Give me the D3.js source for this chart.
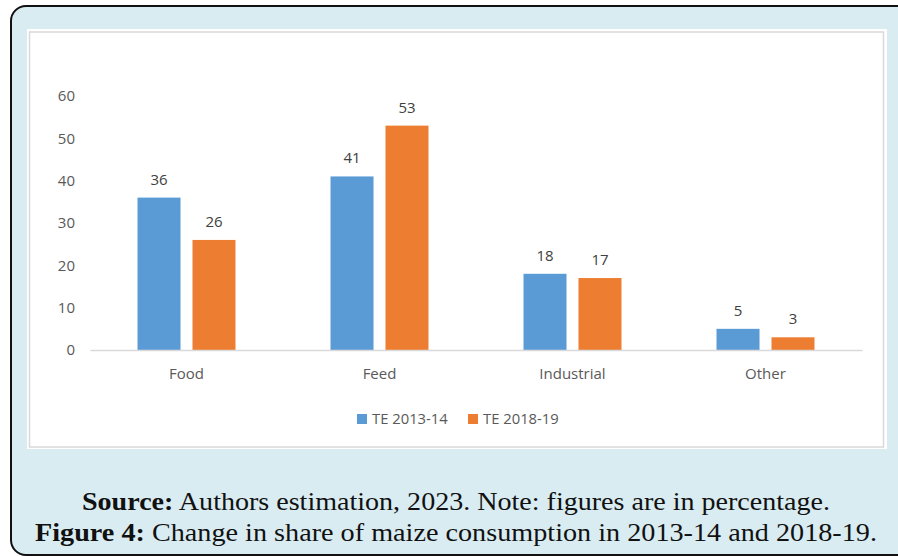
<!DOCTYPE html>
<html><head><meta charset="utf-8">
<script src="https://cdn.jsdelivr.net/npm/d3@7"></script>
<style>html,body{margin:0;padding:0;background:#fff;overflow:hidden}</style>
</head><body>
<svg id="c" width="898" height="556"></svg>
<script>
const categories = ["Food", "Feed", "Industrial", "Other"];
const seriesNames = ["TE 2013-14", "TE 2018-19"];
const te2013 = [36, 41, 18, 5];
const te2018 = [26, 53, 17, 3];
const yTicks = [0, 10, 20, 30, 40, 50, 60];
const colors = ["#5b9bd5", "#ed7d31"];
const captionSource = ["Source:", " Authors estimation, 2023. Note: figures are in percentage."];
const captionFigure = ["Figure 4:", " Change in share of maize consumption in 2013-14 and 2018-19."];

const svg = d3.select("#c");
// outer frame
svg.append("rect").attr("x", 11).attr("y", 6).attr("width", 930).attr("height", 549)
  .attr("rx", 15).attr("fill", "#d9ecf1").attr("stroke", "#111").attr("stroke-width", 2);
// chart panel
svg.append("rect").attr("x", 27).attr("y", 29).attr("width", 860).attr("height", 420).attr("fill", "#fff");
svg.append("rect").attr("x", 29.5).attr("y", 32).attr("width", 854).attr("height", 415)
  .attr("fill", "none").attr("stroke", "#d9d9d9").attr("stroke-width", 1.5);

const font = "'Open Sans', sans-serif";
const x0 = d3.scaleBand().domain(categories).range([90, 862]).padding(0);
const x1 = d3.scaleBand().domain(seriesNames).range([0, x0.bandwidth()]).paddingInner(0.218).paddingOuter(0.864);
const y = d3.scaleLinear().domain([0, 60]).range([350, 96]);

// y labels
const yAxis = d3.axisLeft(y).tickValues(yTicks).tickSize(0).tickPadding(0);
const ga = svg.append("g").attr("transform", "translate(75,0)").call(yAxis);
ga.select(".domain").remove();
ga.selectAll("text").attr("font-family", font).attr("font-size", 15).attr("fill", "#595959");

const data = categories.map((c, i) => ({cat: c, vals: [te2013[i], te2018[i]]}));
const groups = svg.append("g").selectAll("g").data(data).join("g")
  .attr("transform", d => `translate(${x0(d.cat)},0)`);
groups.selectAll("rect").data(d => d.vals.map((v, j) => ({s: seriesNames[j], v, j}))).join("rect")
  .attr("x", d => x1(d.s)).attr("y", d => y(d.v))
  .attr("width", x1.bandwidth()).attr("height", d => y(0) - y(d.v))
  .attr("fill", d => colors[d.j]);
groups.selectAll("text").data(d => d.vals.map((v, j) => ({s: seriesNames[j], v, j}))).join("text")
  .attr("x", d => x1(d.s) + x1.bandwidth() / 2).attr("y", d => y(d.v) - 13)
  .attr("text-anchor", "middle").attr("font-family", font).attr("font-size", 15).attr("fill", "#404040")
  .text(d => d.v);

// baseline
const xAxis = d3.axisBottom(x0).tickSize(0).tickPadding(0);
const gx = svg.append("g").attr("transform", `translate(0,${y(0)})`).call(xAxis);
gx.select(".domain").attr("stroke", "#d9d9d9").attr("stroke-width", 1.5);
gx.selectAll("text").attr("dy", 0).attr("y", 29).attr("font-family", font).attr("font-size", 15).attr("fill", "#595959");

// legend
const legX = [357, 468];
seriesNames.forEach((s, i) => {
  svg.append("rect").attr("x", legX[i]).attr("y", 414).attr("width", 10).attr("height", 10).attr("fill", colors[i]);
  svg.append("text").attr("x", legX[i] + 15).attr("y", 424).attr("font-family", font).attr("font-size", 14.8)
    .attr("fill", "#595959").text(s);
});

// caption
const serif = "'Liberation Serif', 'DejaVu Serif', serif";
function cap(parts, yPos, x, w) {
  const t = svg.append("text").attr("x", x).attr("y", yPos).attr("font-family", serif).attr("font-size", 26)
    .attr("fill", "#111").attr("textLength", w).attr("lengthAdjust", "spacingAndGlyphs");
  t.append("tspan").attr("font-weight", "bold").text(parts[0]);
  t.append("tspan").text(parts[1]);
}
cap(captionSource, 510, 82, 748);
cap(captionFigure, 541, 35, 842);
</script>
</body></html>
